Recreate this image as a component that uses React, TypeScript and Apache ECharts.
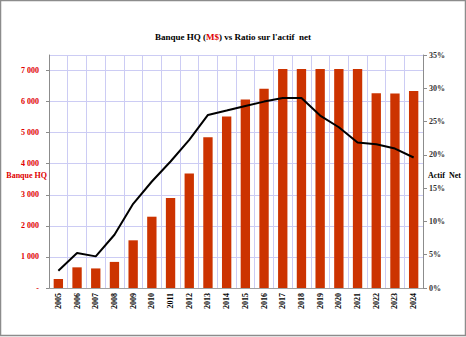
import React, { useEffect, useRef } from "react";
import * as echarts from "echarts";

const years = ["2005","2006","2007","2008","2009","2010","2011","2012","2013","2014","2015","2016","2017","2018","2019","2020","2021","2022","2023","2024"];
const banqueHQ = [290, 665, 630, 840, 1535, 2295, 2895, 3685, 4850, 5520, 6065, 6410, 7050, 7050, 7050, 7050, 7050, 6270, 6260, 6345];
const ratioActifNet = [2.6, 5.25, 4.75, 8.0, 12.65, 16.0, 19.0, 22.25, 26.0, 26.65, 27.35, 28.0, 28.55, 28.55, 25.9, 24.15, 21.85, 21.6, 20.95, 19.6];

const serif = "'Liberation Serif', 'Times New Roman', serif";

export default function App() {
  const ref = useRef<HTMLDivElement>(null);
  useEffect(() => {
    if (!ref.current) return;
    const chart = echarts.init(ref.current, null, { renderer: "svg" });
    chart.setOption({
      animation: false,
      backgroundColor: "#ffffff",
      title: {
        text: "Banque HQ ({r|M$}) vs Ratio sur l'actif  net",
        left: "center",
        top: 27,
        textStyle: {
          fontFamily: serif,
          fontSize: 9,
          fontWeight: "bold",
          color: "#000",
          rich: { r: { fontFamily: serif, fontSize: 9, fontWeight: "bold", color: "#e00000" } },
        },
      },
      graphic: [
        {
          type: "rect",
          shape: { x: 0.5, y: 0.5, width: 465, height: 335 },
          style: { fill: "none", stroke: "#8c8c8c", lineWidth: 1.5 },
          silent: true,
        },
        {
          type: "text",
          x: 47,
          y: 175,
          style: {
            text: "Banque HQ",
            fontFamily: serif,
            fontSize: 8,
            fontWeight: "bold",
            fill: "#e00000",
            align: "right",
            verticalAlign: "middle",
          },
          silent: true,
        },
        {
          type: "text",
          x: 428,
          y: 175,
          style: {
            text: "Actif  Net",
            fontFamily: serif,
            fontSize: 8,
            fontWeight: "bold",
            fill: "#000",
            align: "left",
            verticalAlign: "middle",
          },
          silent: true,
        },
      ],
      grid: { left: 49, right: 43, top: 55, bottom: 49 },
      xAxis: [
        {
          type: "category",
          data: years,
          boundaryGap: true,
          axisLine: { lineStyle: { color: "#8c8c8c", width: 1 } },
          axisTick: { show: false },
          splitLine: { show: true, lineStyle: { color: "#ccccf4", width: 1 } },
          axisLabel: {
            rotate: 90,
            margin: 5,
            interval: 0,
            fontFamily: serif,
            fontSize: 8,
            fontWeight: "bold",
            color: "#000",
          },
        },
        {
          type: "category",
          data: years,
          position: "top",
          axisLine: { show: true, lineStyle: { color: "#a0a0a0", width: 1 } },
          axisTick: { show: false },
          axisLabel: { show: false },
          splitLine: { show: false },
        },
      ],
      yAxis: [
        {
          type: "value",
          min: 0,
          max: 7500,
          interval: 1000,
          axisLine: { show: true, lineStyle: { color: "#8c8c8c", width: 1 } },
          axisTick: { show: true, length: 3, lineStyle: { color: "#8c8c8c" } },
          splitLine: { show: true, lineStyle: { color: "#ccccf4", width: 1 } },
          axisLabel: {
            margin: 10,
            showMaxLabel: false,
            fontFamily: serif,
            fontSize: 8,
            fontWeight: "bold",
            color: "#e00000",
            formatter: (v: number) => (v === 0 ? "-" : String(v).replace(/\B(?=(\d{3})+(?!\d))/g, " ")),
          },
        },
        {
          type: "value",
          min: 0,
          max: 35,
          interval: 5,
          position: "right",
          axisLine: { show: true, lineStyle: { color: "#8c8c8c", width: 1 } },
          axisTick: { show: true, length: 4, lineStyle: { color: "#8c8c8c" } },
          splitLine: { show: false },
          axisLabel: {
            margin: 6,
            fontFamily: serif,
            fontSize: 8,
            fontWeight: "bold",
            color: "#333",
            formatter: "{value}%",
          },
        },
      ],
      series: [
        {
          name: "Banque HQ",
          type: "bar",
          data: banqueHQ,
          barWidth: "50%",
          itemStyle: { color: "#cc3300" },
          yAxisIndex: 0,
          xAxisIndex: 0,
        },
        {
          name: "Ratio",
          type: "line",
          data: ratioActifNet,
          yAxisIndex: 1,
          xAxisIndex: 0,
          symbol: "none",
          lineStyle: { color: "#000", width: 2 },
          z: 5,
        },
      ],
    });
    return () => chart.dispose();
  }, []);
  return <div ref={ref} style={{ position: "fixed", left: 0, top: 0, width: 466, height: 337 }} />;
}
